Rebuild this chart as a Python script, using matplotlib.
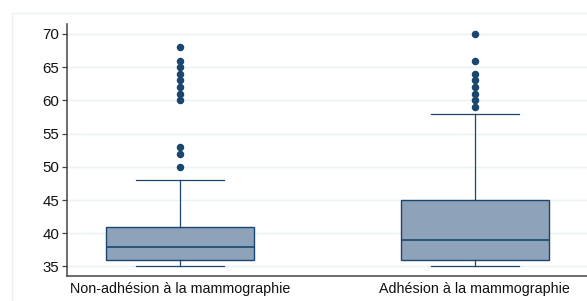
import matplotlib
matplotlib.use("Agg")
import matplotlib.pyplot as plt
from matplotlib.lines import Line2D

categories = ["Non-adhésion à la mammographie", "Adhésion à la mammographie"]
whislo = [35, 35]
q1 = [36, 36]
med = [38, 39]
q3 = [41, 45]
whishi = [48, 58]
fliers = [
    [50, 52, 53, 60, 61, 62, 63, 64, 65, 66, 68],
    [59, 60, 61, 62, 63, 64, 66, 70],
]
yticks = [35, 40, 45, 50, 55, 60, 65, 70]

plt.rcParams['font.family'] = ['Liberation Sans', 'DejaVu Sans']

navy = "#1a476f"
fillc = "#8ea3b9"
gridc = "#eaf2f3"

fig = plt.figure(figsize=(5.87, 3.01), dpi=100)
ax_top = 24
ax_bot = 275.5
ax = fig.add_axes([67/587, 1 - ax_bot/301, 1 - 67/587, (ax_bot - ax_top)/301])

stats = []
for i in range(len(categories)):
    stats.append(dict(whislo=whislo[i], q1=q1[i], med=med[i], q3=q3[i],
                      whishi=whishi[i], fliers=fliers[i], label=categories[i]))

ax.bxp(stats, positions=[1, 2], widths=0.5, capwidths=0.30, patch_artist=True,
       boxprops=dict(facecolor=fillc, edgecolor=navy, linewidth=1.0),
       medianprops=dict(color=navy, linewidth=1.2),
       whiskerprops=dict(color=navy, linewidth=0.9),
       capprops=dict(color=navy, linewidth=0.9),
       flierprops=dict(marker='o', markerfacecolor=navy, markeredgecolor=navy,
                       markersize=4.4, linestyle='none'),
       zorder=3)

ax.set_xlim(0.617, 2.38)
ax.set_ylim(33.64, 71.5)
ax.set_yticks(yticks)
ax.set_yticklabels([str(v) for v in yticks])
ax.yaxis.grid(True, color=gridc, linewidth=1.0, zorder=0)
ax.set_axisbelow(True)

for s in ['top', 'right']:
    ax.spines[s].set_visible(False)
for s in ['left', 'bottom']:
    ax.spines[s].set_color('#444444')
    ax.spines[s].set_linewidth(1.1)

ax.tick_params(axis='y', length=3.5, width=0.9, color='#444444', labelsize=10.8, pad=2,
               labelcolor='#111111')
ax.tick_params(axis='x', length=0, labelsize=10.3, pad=5, labelcolor='#111111')

# outer graph-region frame
fig.add_artist(Line2D([12/587, 12/587], [0, 1 - 13/301], transform=fig.transFigure,
                      color=gridc, linewidth=1.0))
fig.add_artist(Line2D([12/587, 1], [1 - 13/301, 1 - 13/301], transform=fig.transFigure,
                      color=gridc, linewidth=1.0))

fig.savefig("out.png", dpi=100)
